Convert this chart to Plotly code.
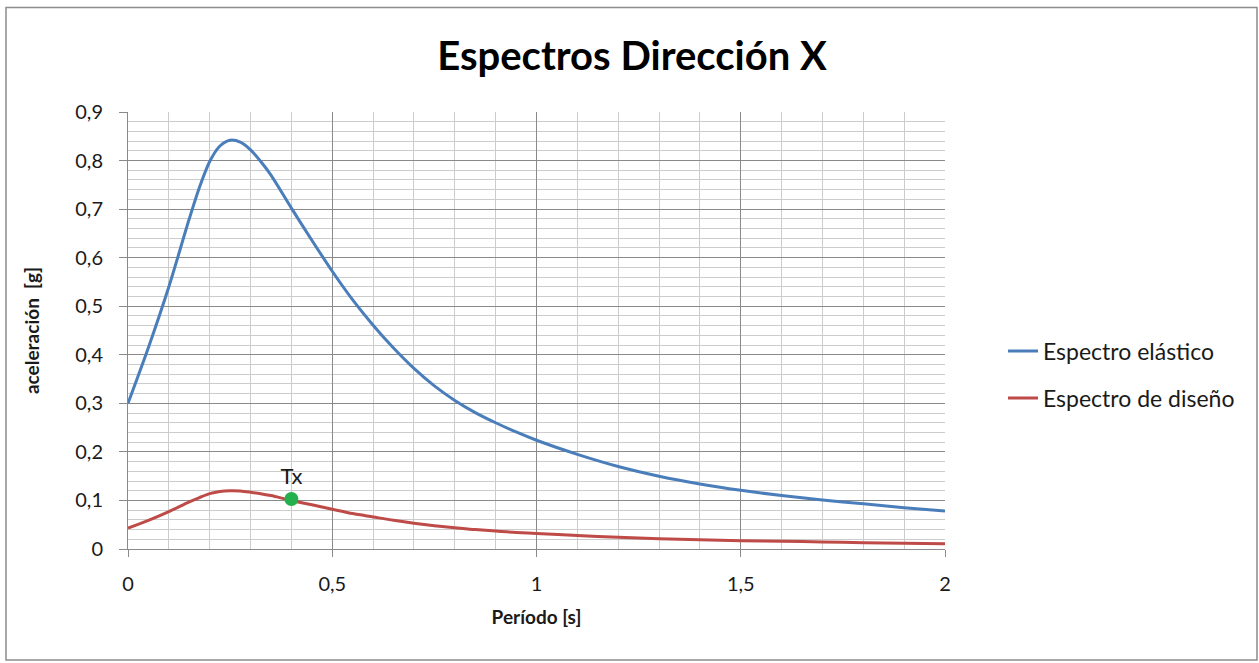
import plotly.graph_objects as go

# Period values [s]
periodo = [0.0, 0.05, 0.1, 0.15, 0.175, 0.2, 0.225, 0.25, 0.275, 0.3, 0.325, 0.35, 0.4,
           0.45, 0.5, 0.55, 0.6, 0.65, 0.7, 0.75, 0.8, 0.85, 0.9, 0.95, 1.0, 1.1, 1.2,
           1.3, 1.4, 1.5, 1.6, 1.7, 1.8, 1.9, 2.0]

# Espectro elástico [g]
elastico = [0.300, 0.415, 0.540, 0.680, 0.745, 0.798, 0.830, 0.842, 0.838, 0.822, 0.798,
            0.770, 0.702, 0.636, 0.572, 0.513, 0.461, 0.414, 0.372, 0.336, 0.306, 0.281,
            0.260, 0.241, 0.224, 0.195, 0.170, 0.150, 0.134, 0.121, 0.110, 0.101, 0.093,
            0.085, 0.078]

# Espectro de diseño [g]
diseno = [0.043, 0.059, 0.077, 0.097, 0.106, 0.114, 0.1185, 0.120, 0.1195, 0.117, 0.114,
          0.110, 0.100, 0.091, 0.082, 0.073, 0.066, 0.059, 0.053, 0.048, 0.044, 0.040,
          0.037, 0.034, 0.032, 0.028, 0.024, 0.021, 0.019, 0.017, 0.016, 0.0145, 0.013,
          0.012, 0.011]

# Tx point
tx_periodo = [0.40]
tx_acel = [0.103]
tx_label = ["Tx"]

FONT = "Lato"

fig = go.Figure()
fig.add_trace(go.Scatter(x=periodo, y=elastico, mode="lines", name="Espectro elástico",
                         line=dict(color="#4a7ebb", width=3, shape="spline", smoothing=0.8),
                         legendgroup="a"))
fig.add_trace(go.Scatter(x=periodo, y=diseno, mode="lines", name="Espectro de diseño",
                         line=dict(color="#be4b48", width=3, shape="spline", smoothing=0.8),
                         legendgroup="b"))
fig.add_trace(go.Scatter(x=tx_periodo, y=tx_acel, mode="markers+text", text=tx_label,
                         textposition="top center", showlegend=False,
                         textfont=dict(family=FONT, size=22, color="#1a1a1a"),
                         marker=dict(color="#22b14c", size=14)))

fig.update_layout(
    width=1259, height=663,
    margin=dict(l=128, r=314, t=112, b=114),
    paper_bgcolor="white", plot_bgcolor="white",
    separators=",.",
    font=dict(family=FONT, size=20, color="#1a1a1a"),
    title=dict(text="<b>Espectros Dirección X</b>", x=0.502, xanchor="center",
               y=0.915, yanchor="middle",
               font=dict(family=FONT, size=40, color="#000000")),
    legend=dict(x=1.071, xanchor="left", y=0.399, yanchor="middle",
                font=dict(family=FONT, size=23, color="#1a1a1a"),
                tracegroupgap=14, traceorder="grouped", bgcolor="rgba(0,0,0,0)"),
    xaxis=dict(range=[0, 2], dtick=0.5, tick0=0, showgrid=True, gridcolor="#8a8a8a",
               gridwidth=1, zeroline=False, showline=True, linecolor="#8a8a8a",
               ticks="outside", ticklen=7, tickcolor="#8a8a8a", ticklabelstandoff=10,
               tickfont=dict(family=FONT, size=20, color="#1a1a1a"),
               minor=dict(dtick=0.1, showgrid=True, gridcolor="#cccccc", gridwidth=1),
               title=dict(text="<b>Período [s]</b>", standoff=16,
                          font=dict(family=FONT, size=19, color="#1a1a1a"))),
    yaxis=dict(range=[0, 0.9], dtick=0.1, tick0=0, showgrid=True, gridcolor="#8a8a8a",
               gridwidth=1, zeroline=False, showline=True, linecolor="#8a8a8a",
               ticks="outside", ticklen=8, tickcolor="#8a8a8a", ticklabelstandoff=12,
               tickfont=dict(family=FONT, size=20, color="#1a1a1a"),
               minor=dict(dtick=0.02, showgrid=True, gridcolor="#cccccc", gridwidth=1),
               title=dict(text="<b>aceleración  [g]</b>", standoff=30,
                          font=dict(family=FONT, size=19, color="#1a1a1a"))),
)

# outer chart border
fig.add_shape(type="rect", xref="paper", yref="paper",
              x0=(6 - 128) / 817, x1=(1257 - 128) / 817,
              y0=(549 - 660) / 437, y1=(549 - 7.5) / 437,
              line=dict(color="#8c8c8c", width=1.5), layer="below")

fig.write_html("out.html")
